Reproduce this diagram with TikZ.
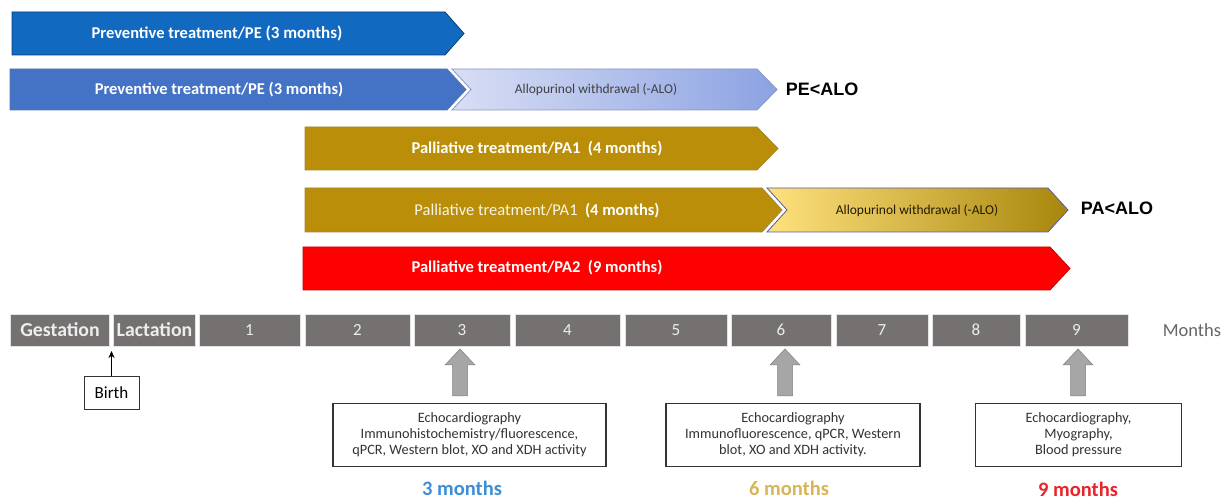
\documentclass[tikz,border=0pt]{standalone}
\usepackage{fontspec}
\setmainfont{Carlito}
\newfontfamily\arialfont{Liberation Sans}
\usetikzlibrary{arrows.meta}
\definecolor{peA}{HTML}{1169C0}
\definecolor{peB}{HTML}{4472C4}
\definecolor{aloL}{HTML}{D8DEF4}
\definecolor{aloR}{HTML}{8CA2E2}
\definecolor{gold}{HTML}{BA8E08}
\definecolor{yelL}{HTML}{FFE27E}
\definecolor{yelM}{HTML}{F2C21A}
\definecolor{yelR}{HTML}{A8860C}
\definecolor{tl}{HTML}{767171}
\definecolor{blockgray}{HTML}{A6A6A6}
\definecolor{m3}{HTML}{3C8FD6}
\definecolor{m6}{HTML}{D6B658}
\definecolor{m9}{HTML}{E8252A}
\newcommand\chevpath[7]{%
 \path[#1] (#2,#3) -- (#4,#3) -- (#5,{(#3+#6)/2}) -- (#4,#6) -- (#2,#6) -- ({#2+#7},{(#3+#6)/2}) -- cycle;}
\newcommand\uparr[3]{% x, ytop, ybottom
 \path[blockarrow] ({#1-7.5},#3) -- ({#1-7.5},{#2+16}) -- ({#1-15},{#2+16}) -- (#1,#2) -- ({#1+15},{#2+16}) -- ({#1+7.5},{#2+16}) -- ({#1+7.5},#3) -- cycle;}
\tikzset{
 outl/.style={draw=#1, line width=0.8pt},
 bartext/.style={text=white, font=\bfseries\fontsize{16.5}{18}\selectfont, inner sep=0pt},
 alotext/.style={font=\fontsize{13.5}{15}\selectfont, inner sep=0pt},
 cmp/.style={font=\arialfont\bfseries\fontsize{18}{20}\selectfont, inner sep=0pt},
 tlbox/.style={fill=tl, draw=white!80!tl, line width=0.6pt, minimum height=32pt, inner sep=0pt, text=white!93!black, font=\fontsize{17}{19}\selectfont},
 tlbold/.style={font=\bfseries\fontsize{19.8}{21}\selectfont},
 blockarrow/.style={fill=blockgray, draw=gray, line width=0.5pt},
 infobox/.style={draw=black!80, line width=1.2pt, inner sep=0pt, align=center, text=black!80, font=\fontsize{14.3}{16}\selectfont},
 monthlabel/.style={font=\bfseries\fontsize{20.5}{23}\selectfont, inner sep=0pt},
}
\begin{document}
\begin{tikzpicture}[x=1pt,y=-1pt]
\useasboundingbox[fill=white] (0,0) rectangle (1226,502);
% treatment bars
\chevpath{fill=peA, outl=peA!60!black}{12}{12}{445}{464}{55}{0}
\node[bartext] (pe1) at (217,33) {Preventive treatment/PE {\fontsize{17}{18}\selectfont(3 months)}};
\chevpath{fill=peB, outl=peB!70!gray}{10}{69}{447}{466}{110}{0}
\node[bartext] (pe2) at (219,90) {Preventive treatment/PE (3 months)};
\chevpath{left color=aloL, right color=aloR, outl=aloR!70!gray}{452}{69}{757}{777}{110}{19}
\node[alotext, text=black!75] (alo1) at (596,90) {Allopurinol withdrawal (-ALO)};
\node[cmp] (pealo) at (822,89) {PE<ALO};
\chevpath{fill=gold, outl=gold!60!gray}{305}{127}{757}{778}{170}{0}
\node[bartext] (pa1a) at (537,149) {Palliative treatment/PA1 \ (4 months)};
\chevpath{fill=gold, outl=gold!60!gray}{305}{188}{762}{782}{232}{0}
\node[bartext] (pa1b) at (537,211) {{\mdseries\color{white!90!gold}Palliative treatment/PA1} \ (4 months)};
\chevpath{left color=yelL, middle color=yelM, right color=yelR, outl=gray!70!blue}{767}{188}{1048}{1068}{232}{20}
\node[alotext, text=black!80!yelR] (alo2) at (917,211) {Allopurinol withdrawal (-ALO)};
\node[cmp] (paalo) at (1117,208) {PA<ALO};
\chevpath{fill=red, outl=red!80!black}{303}{247}{1050}{1070}{290}{0}
\node[bartext] (pa2) at (537,268) {Palliative treatment/PA2 \ (9 months)};
% timeline
\node[tlbox, minimum width=99pt, tlbold] (gest) at (60,330) {Gestation};
\node[tlbox, minimum width=82pt, tlbold] (lact) at (154.5,330) {Lactation};
\node[tlbox, minimum width=101pt] (m1) at (249.5,330) {1};
\node[tlbox, minimum width=105pt] (m2) at (357.5,330) {2};
\node[tlbox, minimum width=96pt] (m3) at (462,330) {3};
\node[tlbox, minimum width=105pt] (m4) at (567.5,330) {4};
\node[tlbox, minimum width=102pt] (m5) at (676,330) {5};
\node[tlbox, minimum width=100pt] (m6) at (781,330) {6};
\node[tlbox, minimum width=92pt] (m7) at (882,330) {7};
\node[tlbox, minimum width=88pt] (m8) at (976,330) {8};
\node[tlbox, minimum width=103pt] (m9) at (1076.5,330) {9};
\node[text=black!60, font=\fontsize{18.5}{20}\selectfont, inner sep=0pt] (months) at (1192,330) {Months};
% birth
\node[draw=black!80, line width=1pt, minimum width=55pt, minimum height=32pt, inner sep=0pt, font=\fontsize{17}{19}\selectfont] (birth) at (111.5,393) {Birth};
\coordinate (birthpt) at (111.5,351);
\draw[-{Stealth[length=7pt,width=6pt]}, line width=0.6pt] (birth.north) -- (birthpt);
% block arrows
\uparr{460}{349}{396}
\uparr{785}{349}{396}
\uparr{1078}{349}{396}
% info boxes
\node[infobox, minimum width=273pt, minimum height=63pt] (box3) at (469.5,435) {Echocardiography\\Immunohistochemistry/fluorescence,\\qPCR, Western blot, XO and XDH activity};
\node[infobox, minimum width=254pt, minimum height=63pt] (box6) at (793,435) {Echocardiography\\Immunofluorescence, qPCR, Western\\blot, XO and XDH activity.};
\node[infobox, minimum width=206pt, minimum height=63pt] (box9) at (1078.5,435) {Echocardiography,\\Myography,\\Blood pressure};
\node[monthlabel, text=m3] (l3) at (462,488) {3 months};
\node[monthlabel, text=m6] (l6) at (789,488) {6 months};
\node[monthlabel, text=m9] (l9) at (1078,489) {9 months};
\end{tikzpicture}
\end{document}
